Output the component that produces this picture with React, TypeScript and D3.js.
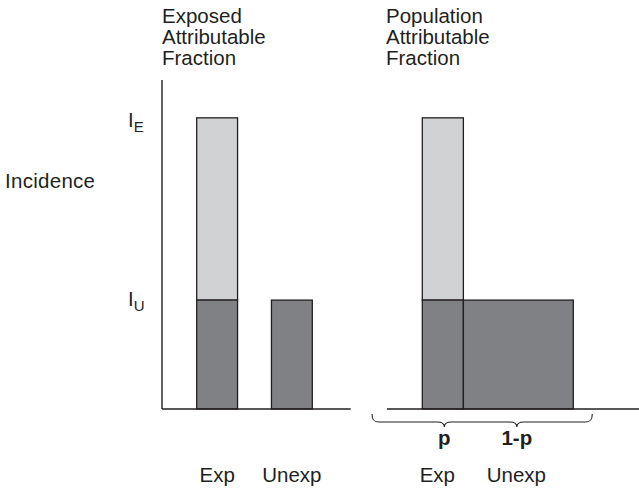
import React from "react";
import * as d3 from "d3";

// ---- data ----
const categories = ["Exp", "Unexp"];
const incidenceLevels = [
  { key: "E", value: 0.885 },
  { key: "U", value: 0.331 },
];
const leftBars = [
  { cat: "Exp", unexposedPart: 0.331, excess: 0.885 },
  { cat: "Unexp", unexposedPart: 0.331, excess: 0.331 },
];
const proportions = [
  { cat: "Exp", label: "p", share: 0.272, top: 0.885, base: 0.331 },
  { cat: "Unexp", label: "1-p", share: 0.728, top: 0.331, base: 0.331 },
];
const titlesLeft = ["Exposed", "Attributable", "Fraction"];
const titlesRight = ["Population", "Attributable", "Fraction"];
const yLabel = "Incidence";

const W = 639;
const H = 492;
const FONT = "'Liberation Sans', Arial, Helvetica, sans-serif";
const INK = "#231f20";
const LIGHT = "#d1d2d4";
const DARK = "#808184";
const FS = 20.5;

export default function App() {
  const y = d3.scaleLinear().domain([0, 1]).range([409, 80]);
  const base = y(0);

  // left panel
  const xl = d3
    .scaleBand<string>()
    .domain(categories)
    .range([196.7, 312.3])
    .paddingInner(34 / 75)
    .paddingOuter(0);
  const leftAxisX = 162;
  const leftAxisEnd = 350.7;

  // right panel: proportional widths
  const xr = d3.scaleLinear().domain([0, 1]).range([422.3, 573.3]);
  const rightStart = 387;
  let acc = 0;
  const rightBars = proportions.map((d) => {
    const x0 = xr(acc);
    acc += d.share;
    const x1 = xr(acc);
    return { ...d, x0, x1, cx: (x0 + x1) / 2 };
  });

  // brace
  const bx0 = 372;
  const bx1 = 592.3;
  const yTop = 414;
  const yMid = 422;
  const yBot = 427;
  const r = 7;
  const p = d3.path();
  p.moveTo(bx0, yTop);
  p.bezierCurveTo(bx0, yMid - 2, bx0 + 2, yMid, bx0 + r, yMid);
  rightBars.forEach((b) => {
    const c = b.cx + (b.label === "p" ? 1.5 : -1.5);
    p.lineTo(c - r, yMid);
    p.quadraticCurveTo(c, yMid, c, yBot);
    p.quadraticCurveTo(c, yMid, c + r, yMid);
  });
  p.lineTo(bx1 - r, yMid);
  p.bezierCurveTo(bx1 - 2, yMid, bx1, yMid - 2, bx1, yTop);

  const labelOffsets: Record<string, number> = { E: 9, U: 6 };

  return (
    <svg width={W} height={H} style={{ display: "block", position: "absolute", left: 0, top: 0 }}>
      <rect width={W} height={H} fill="#fff" />
      <g fontFamily={FONT} fill={INK}>
        {/* titles */}
        <text x={leftAxisX} y={22.7} fontSize={FS}>
          {titlesLeft.map((t, i) => (
            <tspan key={i} x={leftAxisX} y={22.7 + i * 21.2}>
              {t}
            </tspan>
          ))}
        </text>
        <text x={386} y={22.7} fontSize={FS}>
          {titlesRight.map((t, i) => (
            <tspan key={i} x={386} y={22.7 + i * 21.2}>
              {t}
            </tspan>
          ))}
        </text>
        {/* y label */}
        <text x={5} y={188} fontSize={FS} textLength={90} lengthAdjust="spacing">
          {yLabel}
        </text>
        {/* incidence level labels */}
        {incidenceLevels.map((d) => (
          <text key={d.key} x={128} y={y(d.value) + labelOffsets[d.key]} fontSize={FS}>
            I
            <tspan dy={5} fontSize={15}>
              {d.key}
            </tspan>
          </text>
        ))}
      </g>

      {/* left panel bars */}
      {leftBars.map((d) => {
        const x = xl(d.cat)!;
        const w = xl.bandwidth();
        return (
          <g key={d.cat} stroke={INK} strokeWidth={1.3}>
            {d.excess > d.unexposedPart && (
              <rect x={x} y={y(d.excess)} width={w} height={y(d.unexposedPart) - y(d.excess)} fill={LIGHT} />
            )}
            <rect x={x} y={y(d.unexposedPart)} width={w} height={base - y(d.unexposedPart)} fill={DARK} />
          </g>
        );
      })}

      {/* right panel bars */}
      {rightBars.map((d) => (
        <g key={d.cat} stroke={INK} strokeWidth={1.3}>
          {d.top > d.base && (
            <rect x={d.x0} y={y(d.top)} width={d.x1 - d.x0} height={y(d.base) - y(d.top)} fill={LIGHT} />
          )}
          <rect x={d.x0} y={y(d.base)} width={d.x1 - d.x0} height={base - y(d.base)} fill={DARK} />
        </g>
      ))}

      {/* axes */}
      <g stroke={INK} strokeWidth={1.4} fill="none">
        <line x1={leftAxisX} x2={leftAxisX} y1={y(1)} y2={base} />
        <line x1={leftAxisX} x2={leftAxisEnd} y1={base} y2={base} />
        <line x1={rightStart} x2={W} y1={base} y2={base} />
        <path d={p.toString()} strokeWidth={1.1} />
      </g>

      <g fontFamily={FONT} fill={INK} textAnchor="middle">
        {categories.map((c) => (
          <text key={c} x={xl(c)! + xl.bandwidth() / 2} y={482} fontSize={FS}>
            {c}
          </text>
        ))}
        {rightBars.map((d) => (
          <g key={d.cat}>
            <text x={d.cx + (d.label === "p" ? 1.5 : -1.5)} y={445} fontSize={FS} fontWeight="bold">
              {d.label}
            </text>
            <text x={d.cx + (d.label === "p" ? -5.5 : -2)} y={482} fontSize={FS}>
              {d.cat}
            </text>
          </g>
        ))}
      </g>
    </svg>
  );
}
